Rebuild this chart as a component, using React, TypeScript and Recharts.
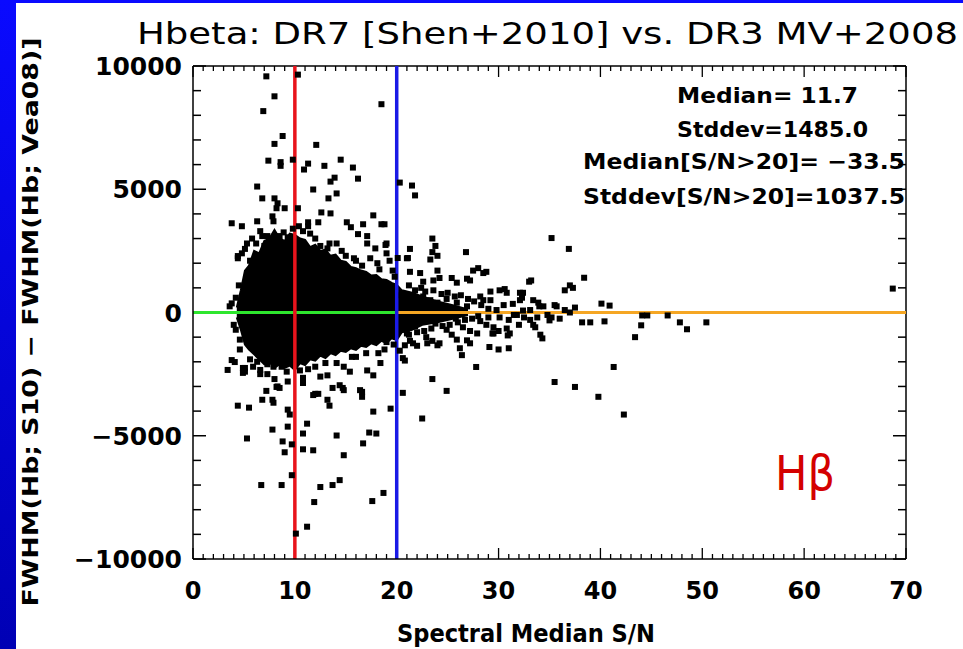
import React from 'react'
import {
  ComposedChart,
  Area,
  Scatter,
  XAxis,
  YAxis,
  ReferenceLine,
} from 'recharts'

// axis ticks
const X_LABELS = [0, 10, 20, 30, 40, 50, 60, 70]
const Y_LABELS = [-10000, -5000, 0, 5000, 10000]
const X_MINOR_STEP = 1
const Y_MINOR_STEP = 1000

// S/N cuts and zero line
const SN_CUTS = [10, 20]
const ZERO_SPLIT = 20

// dense core of the distribution: [S/N, low, high]
const CORE_ENVELOPE: [number, number, number][] = [
  [4.3, -200, 200], [4.7, -700, 900], [5.1, -1300, 1700], [5.5, -1500, 1900],
  [6.0, -1700, 2500], [6.5, -1900, 2400], [7.0, -2100, 2900], [7.5, -2000, 3000],
  [8.0, -2250, 3350], [8.5, -2100, 3000], [9.0, -2250, 2900], [9.5, -2150, 3200],
  [10.0, -2330, 3150], [10.5, -2050, 3000], [11.0, -2130, 2950], [11.5, -1900, 2650],
  [12.0, -1950, 2750], [12.5, -1750, 2500], [13.0, -1850, 2550], [13.5, -1650, 2300],
  [14.0, -1730, 2350], [14.5, -1550, 2100], [15.0, -1600, 2050], [15.5, -1450, 1850],
  [16.0, -1520, 1800], [16.5, -1350, 1700], [17.0, -1400, 1650], [17.5, -1250, 1500],
  [18.0, -1320, 1520], [18.5, -1150, 1350], [19.0, -1240, 1320], [19.5, -1050, 1200],
  [20.0, -1120, 1120], [20.5, -800, 900], [21.5, -700, 800], [22.5, -500, 650],
  [24.0, -400, 450], [25.5, -250, 300], [27.0, -100, 120],
]

// scattered objects: [S/N, FWHM difference]
const UPPER_POINTS: [number, number][] = [
  [7.2, 9580], [10.3, 9650], [8.0, 8770], [6.9, 8170], [18.5, 8450], [8.8, 7160],
  [8.0, 6840], [12.1, 6800], [7.4, 6160], [8.6, 6100], [8.6, 5950], [9.8, 6200],
  [11.3, 6040], [10.9, 5800], [12.9, 5950], [14.5, 6200], [15.7, 5880], [16.2, 5430],
  [13.9, 5470], [13.5, 5310], [11.8, 4990], [6.3, 5110], [14.1, 4830], [13.3, 4630],
  [20.3, 5270], [21.5, 5150], [21.8, 4750], [6.8, 4630], [8.0, 4630], [8.3, 4430],
  [9.0, 4230], [8.2, 4230], [10.3, 4230], [12.6, 4060], [13.5, 4020], [3.8, 3620],
  [4.8, 3500], [7.8, 3900], [11.3, 3660], [11.3, 3500], [12.3, 3660], [15.1, 3660],
  [15.5, 3460], [17.7, 3940], [18.5, 3580], [18.8, 3580], [16.7, 3580], [16.2, 3180],
  [17.1, 3100], [6.3, 3700], [7.9, 3700], [6.6, 3300], [7.3, 3100], [9.3, 3050],
]

const UPPER_EDGE: [number, number][] = [
  [4.4, 2290], [5.1, 2580], [5.8, 3000], [5.3, 2800], [4.4, 2200], [4.8, 2400],
  [18.9, 2740], [12.5, 2700], [13.2, 2600], [13.4, 2800], [14.1, 2800], [15.0, 2300],
  [17.1, 2800], [17.9, 2600], [19.0, 2800], [19.0, 2400], [19.3, 2100], [17.4, 2200],
  [18.1, 2000], [16.0, 2100], [19.6, 1700], [11.5, 3200], [8.5, 3100], [7.0, 2700],
  [4.2, 600], [4.5, 1100], [5.6, 2100], [6.2, 2800], [6.8, 3100], [9.8, 3400],
  [10.8, 3300], [12.0, 3000], [14.6, 2500], [15.8, 2200], [16.6, 1900], [18.3, 1750],
  [19.8, 1450], [10.4, 3500], [8.9, 3250],
]

const LOWER_POINTS: [number, number][] = [
  [3.4, -2330], [3.8, -1930], [4.1, -2010], [4.9, -2250], [4.9, -2450], [4.4, -3780],
  [5.5, -3860], [7.2, -3180], [6.8, -3540], [7.9, -3660], [7.8, -3540], [8.2, -3020],
  [8.5, -3060], [7.8, -4750], [5.3, -5110], [8.8, -5230], [9.0, -5670], [9.3, -4630],
  [9.3, -3940], [9.5, -4140], [9.7, -5350], [6.7, -7000], [8.7, -7000], [9.7, -6600],
  [10.1, -8970], [11.2, -8690], [10.8, -5550], [11.8, -5590], [10.8, -4910], [11.2, -4510],
  [12.0, -3300], [12.3, -3300], [13.2, -3540], [13.4, -3780], [14.1, -4990], [14.8, -5790],
  [12.5, -7080], [13.7, -7000], [14.4, -6800], [11.9, -7690], [17.6, -7650], [18.7, -7320],
  [16.7, -5310], [17.3, -4870], [18.0, -4910], [17.7, -4020], [19.4, -3900], [16.6, -3220],
  [16.6, -3420], [13.7, -3060], [14.7, -3060], [10.8, -2650], [10.8, -2860], [8.0, -2700],
  [9.3, -2800], [8.3, -3000], [6.6, -2500], [7.3, -2500],
]

const LOWER_EDGE: [number, number][] = [
  [5.1, -2250], [5.1, -2400], [5.9, -2200], [6.6, -2330], [7.3, -2100], [7.9, -2200],
  [8.7, -2200], [9.2, -2400], [10.5, -2350], [11.8, -3350], [12.5, -2600], [13.2, -2550],
  [14.1, -2050], [14.8, -2200], [15.4, -2400], [14.4, -2950], [14.8, -3150], [16.4, -3150],
  [17.1, -2350], [17.7, -2550], [18.4, -2050], [18.2, -1650], [19.0, -1200], [16.0, -1800],
  [12.0, -2200], [4.6, -1500], [3.8, 370], [3.6, 250], [4.2, -700], [4.0, -500],
  [4.6, -1100], [5.6, -1900], [6.3, -2000], [11.3, -2300], [13.0, -2050], [15.6, -1800],
  [17.0, -1650], [18.8, -1500], [19.7, -1300],
]

const HIGH_SN_POINTS: [number, number][] = [
  [35.2, 3020], [36.9, 2580], [38.4, 1410], [68.7, 970],
  [21.3, 2580], [21.1, 2210], [20.1, 2210], [23.5, 3000], [23.8, 2700], [23.5, 2450],
  [24.0, 2300], [23.3, 2150], [26.8, 2450], [21.0, 2200], [21.3, 1650], [22.3, 1600],
  [22.6, 1250], [23.6, 1300], [24.0, 1700], [24.2, 1400], [25.4, 1400], [25.9, 1210],
  [26.9, 1370], [27.2, 1300], [27.5, 1700], [28.0, 1800], [28.8, 1650], [28.5, 1600],
  [29.2, 850], [30.1, 900], [30.6, 950], [30.8, 800], [32.1, 800], [32.3, 600],
  [33.0, 1250], [33.2, 1300], [32.4, 800], [33.4, 500], [33.9, 400], [34.4, 250],
  [31.8, -100], [32.5, -200], [33.1, -300], [29.5, -600], [30.0, -750], [30.8, -650],
  [28.2, -350], [28.8, -500], [26.5, -600], [27.2, -750], [27.9, -850], [24.9, -700],
  [25.4, -900], [25.9, -1100], [22.9, -1000], [23.5, -1150], [24.2, -1250], [21.3, -1150],
  [22.0, -1350], [20.6, -650], [21.0, -850], [24.9, 550], [25.9, 400], [26.9, 250],
  [22.6, 650], [23.3, 500], [24.0, 400], [28.2, 650], [28.5, 500], [29.2, 500],
  [33.1, 100], [30.1, -200], [31.4, 350], [36.5, 900], [37.0, 1100], [37.3, 1000],
  [36.5, 100], [37.0, 0], [37.5, 200], [35.2, -200], [36.0, -250], [35.5, 300],
  [35.7, 250], [34.0, 250], [32.1, 500], [32.4, 80], [33.4, -500], [33.6, -600],
  [29.4, -850], [31.1, -850], [40.1, 360], [40.9, 280], [40.4, -360], [38.2, -400],
  [39.0, -400], [44.1, -120], [44.6, -120], [44.0, -520], [43.4, -1000], [46.6, -120],
  [47.8, -400], [48.5, -680], [50.4, -400], [35.0, -320], [29.0, -200], [29.8, 100],
  [31.0, -300], [32.0, -500], [34.8, -100], [33.8, -200],
  [26.2, -1450], [26.4, -1730], [29.1, -1400], [30.0, -1500], [31.0, -1450], [34.1, -900],
  [34.3, -1050], [23.0, -1250], [24.0, -1330], [20.8, -1330], [26.9, -1130], [27.2, -1250],
  [29.5, -850], [30.9, -930], [35.5, -2820], [37.5, -3020], [39.8, -3420], [42.3, -4140],
  [41.3, -2210], [23.5, -2700], [24.9, -3180], [27.8, -2210], [22.5, -4300], [20.6, -3260],
  [20.6, -1850], [20.3, -1550], [20.8, -1950], [21.6, -1250],
  [20.5, 700], [21.2, 1100], [21.8, 900], [22.4, 1000], [22.8, 850], [23.6, 900],
  [24.4, 750], [25.0, 800], [25.7, 650], [26.3, 700], [27.0, 550], [27.6, 450],
  [28.3, 300], [21.2, -900], [22.0, -800], [22.7, -750], [23.4, -650], [24.5, -550],
  [25.2, -500], [26.0, -400], [26.7, -300], [27.4, -250], [28.0, -150], [29.0, 150],
  [30.5, 300], [31.5, -100], [21.8, -550], [23.8, -450], [25.8, -250],
]

const STATS = [
  'Median=   11.7',
  'Stddev=1485.0',
  'Median[S/N>20]=  \u221233.5',
  'Stddev[S/N>20]=1037.5',
]

const FONT = '"DejaVu Sans", "Liberation Sans", sans-serif'

// plot box (chart 963x649)
const MARGIN = { top: 66, right: 57, bottom: 89, left: 192 }
const PLOT_W = 963 - MARGIN.left - 1 - MARGIN.right
const PLOT_H = 649 - MARGIN.top - MARGIN.bottom - 1

const steps = (labels: number[], step: number) => {
  const out: number[] = []
  for (let v = labels[0]; v <= labels[labels.length - 1] + 1e-9; v += step) out.push(Math.round(v))
  return out
}
const X_TICKS = steps(X_LABELS, X_MINOR_STEP)
const Y_TICKS = steps(Y_LABELS, Y_MINOR_STEP)

const envelopeData = CORE_ENVELOPE.map(([x, lo, hi]) => ({ x, band: [lo, hi] }))
const toPts = (arr: [number, number][]) => arr.map(([x, y]) => ({ x, y }))
const scatterData = toPts([
  ...UPPER_POINTS,
  ...UPPER_EDGE,
  ...LOWER_POINTS,
  ...LOWER_EDGE,
  ...HIGH_SN_POINTS,
])

const fmt = (v: number) => (v < 0 ? '\u2212' + Math.abs(v) : String(v))

// bottom ticks, mirrored on the top edge (hidden under the coloured cut lines)
const XTick = (props: any) => {
  const { x, y, payload } = props
  const major = X_LABELS.includes(payload.value)
  const covered = SN_CUTS.includes(payload.value)
  const len = major ? 11 : 5
  const top = y - PLOT_H
  return (
    <g>
      {!covered && <line x1={x} x2={x} y1={y} y2={y - len} stroke="#000" strokeWidth={1.3} />}
      {!covered && <line x1={x} x2={x} y1={top} y2={top + len} stroke="#000" strokeWidth={1.3} />}
      {major && (
        <text x={x} y={y + 40} textAnchor="middle" fontFamily={FONT} fontWeight="bold" fontSize={24} fill="#000">
          {payload.value}
        </text>
      )}
    </g>
  )
}

// left ticks, mirrored on the right edge
const YTick = (props: any) => {
  const { x, y, payload } = props
  const major = Y_LABELS.includes(payload.value)
  const covered = payload.value === 0
  const len = major ? 13 : 8
  const right = x + PLOT_W
  return (
    <g>
      {!covered && <line x1={x} x2={x + len} y1={y} y2={y} stroke="#000" strokeWidth={1.5} />}
      {!covered && <line x1={right} x2={right - len} y1={y} y2={y} stroke="#000" strokeWidth={1.5} />}
      {major && (
        <text x={x - 11} y={y + 9} textAnchor="end" fontFamily={FONT} fontWeight="bold" fontSize={25} fill="#000">
          {fmt(payload.value)}
        </text>
      )}
    </g>
  )
}

const Square = (props: any) => {
  const { cx, cy } = props
  if (cx == null || cy == null) return null
  return <rect x={cx - 3} y={cy - 3} width={6} height={6} fill="#000" />
}

export default function App() {
  return (
    <div style={{ position: 'absolute', left: 0, top: 0, width: 963, height: 649, background: '#fff', overflow: 'hidden' }}>
      <div style={{ position: 'absolute', left: 0, top: 0, width: 963, height: 3, background: '#0a0aff' }} />
      <div
        style={{
          position: 'absolute',
          left: 0,
          top: 0,
          width: 16,
          height: 649,
          background: 'linear-gradient(to bottom, #0a0aff, #0000b4)',
        }}
      />
      <ComposedChart
        width={963}
        height={649}
        data={envelopeData}
        margin={MARGIN}
        style={{ position: 'absolute', left: 0, top: 0 }}
      >
        <XAxis
          type="number"
          dataKey="x"
          domain={[0, 70]}
          ticks={X_TICKS}
          interval={0}
          allowDataOverflow
          height={1}
          tickSize={0}
          tickMargin={0}
          tickLine={false}
          tick={XTick}
          axisLine={{ stroke: '#000', strokeWidth: 1.5 }}
        />
        <YAxis
          type="number"
          dataKey="y"
          domain={[-10000, 10000]}
          ticks={Y_TICKS}
          interval={0}
          allowDataOverflow
          width={1}
          tickSize={0}
          tickMargin={0}
          tickLine={false}
          tick={YTick}
          axisLine={{ stroke: '#000', strokeWidth: 1.5 }}
        />
        <Area
          type="linear"
          dataKey="band"
          fill="#000"
          fillOpacity={1}
          stroke="#000"
          strokeWidth={2}
          dot={false}
          activeDot={false}
          isAnimationActive={false}
        />
        <Scatter data={scatterData} shape={Square} isAnimationActive={false} />
        <ReferenceLine y={10000} stroke="#000" strokeWidth={1.5} />
        <ReferenceLine x={70} stroke="#000" strokeWidth={1.5} />
        <ReferenceLine segment={[{ x: 0, y: 0 }, { x: ZERO_SPLIT, y: 0 }]} stroke="#2ee62e" strokeWidth={3} />
        <ReferenceLine segment={[{ x: ZERO_SPLIT, y: 0 }, { x: 70, y: 0 }]} stroke="#f5a623" strokeWidth={3} />
        <ReferenceLine x={SN_CUTS[0]} stroke="#e8141c" strokeWidth={3.5} />
        <ReferenceLine x={SN_CUTS[1]} stroke="#1a1ae6" strokeWidth={3.5} />
      </ComposedChart>
      <svg
        width={963}
        height={649}
        style={{ position: 'absolute', left: 0, top: 0, pointerEvents: 'none' }}
      >
        <text x={137} y={44} fontFamily={FONT} fontSize={30} fill="#000" textLength={821} lengthAdjust="spacingAndGlyphs">
          Hbeta: DR7 [Shen+2010] vs. DR3 MV+2008
        </text>
        <text
          x={0}
          y={0}
          transform="translate(38 322) rotate(-90)"
          textAnchor="middle"
          fontFamily={FONT}
          fontWeight="bold"
          fontSize={22}
          fill="#000"
          textLength={569}
          lengthAdjust="spacingAndGlyphs"
        >
          FWHM(Hb; S10) − FWHM(Hb; Vea08)]
        </text>
        <text x={526} y={642} textAnchor="middle" fontFamily={FONT} fontWeight="bold" fontSize={24} fill="#000" textLength={258} lengthAdjust="spacingAndGlyphs">
          Spectral Median S/N
        </text>
        <text x={677} y={103} fontFamily={FONT} fontWeight="bold" fontSize={22} fill="#000" textLength={181} lengthAdjust="spacingAndGlyphs">
          {STATS[0]}
        </text>
        <text x={677} y={137} fontFamily={FONT} fontWeight="bold" fontSize={22} fill="#000" textLength={191} lengthAdjust="spacingAndGlyphs">
          {STATS[1]}
        </text>
        <text x={583} y={169} fontFamily={FONT} fontWeight="bold" fontSize={22} fill="#000" textLength={322} lengthAdjust="spacingAndGlyphs">
          {STATS[2]}
        </text>
        <text x={583} y={204} fontFamily={FONT} fontWeight="bold" fontSize={22} fill="#000" textLength={322} lengthAdjust="spacingAndGlyphs">
          {STATS[3]}
        </text>
        <text x={775} y={490} fontFamily={FONT} fontSize={48} fill="#d40000" textLength={60} lengthAdjust="spacingAndGlyphs">
          Hβ
        </text>
      </svg>
    </div>
  )
}
